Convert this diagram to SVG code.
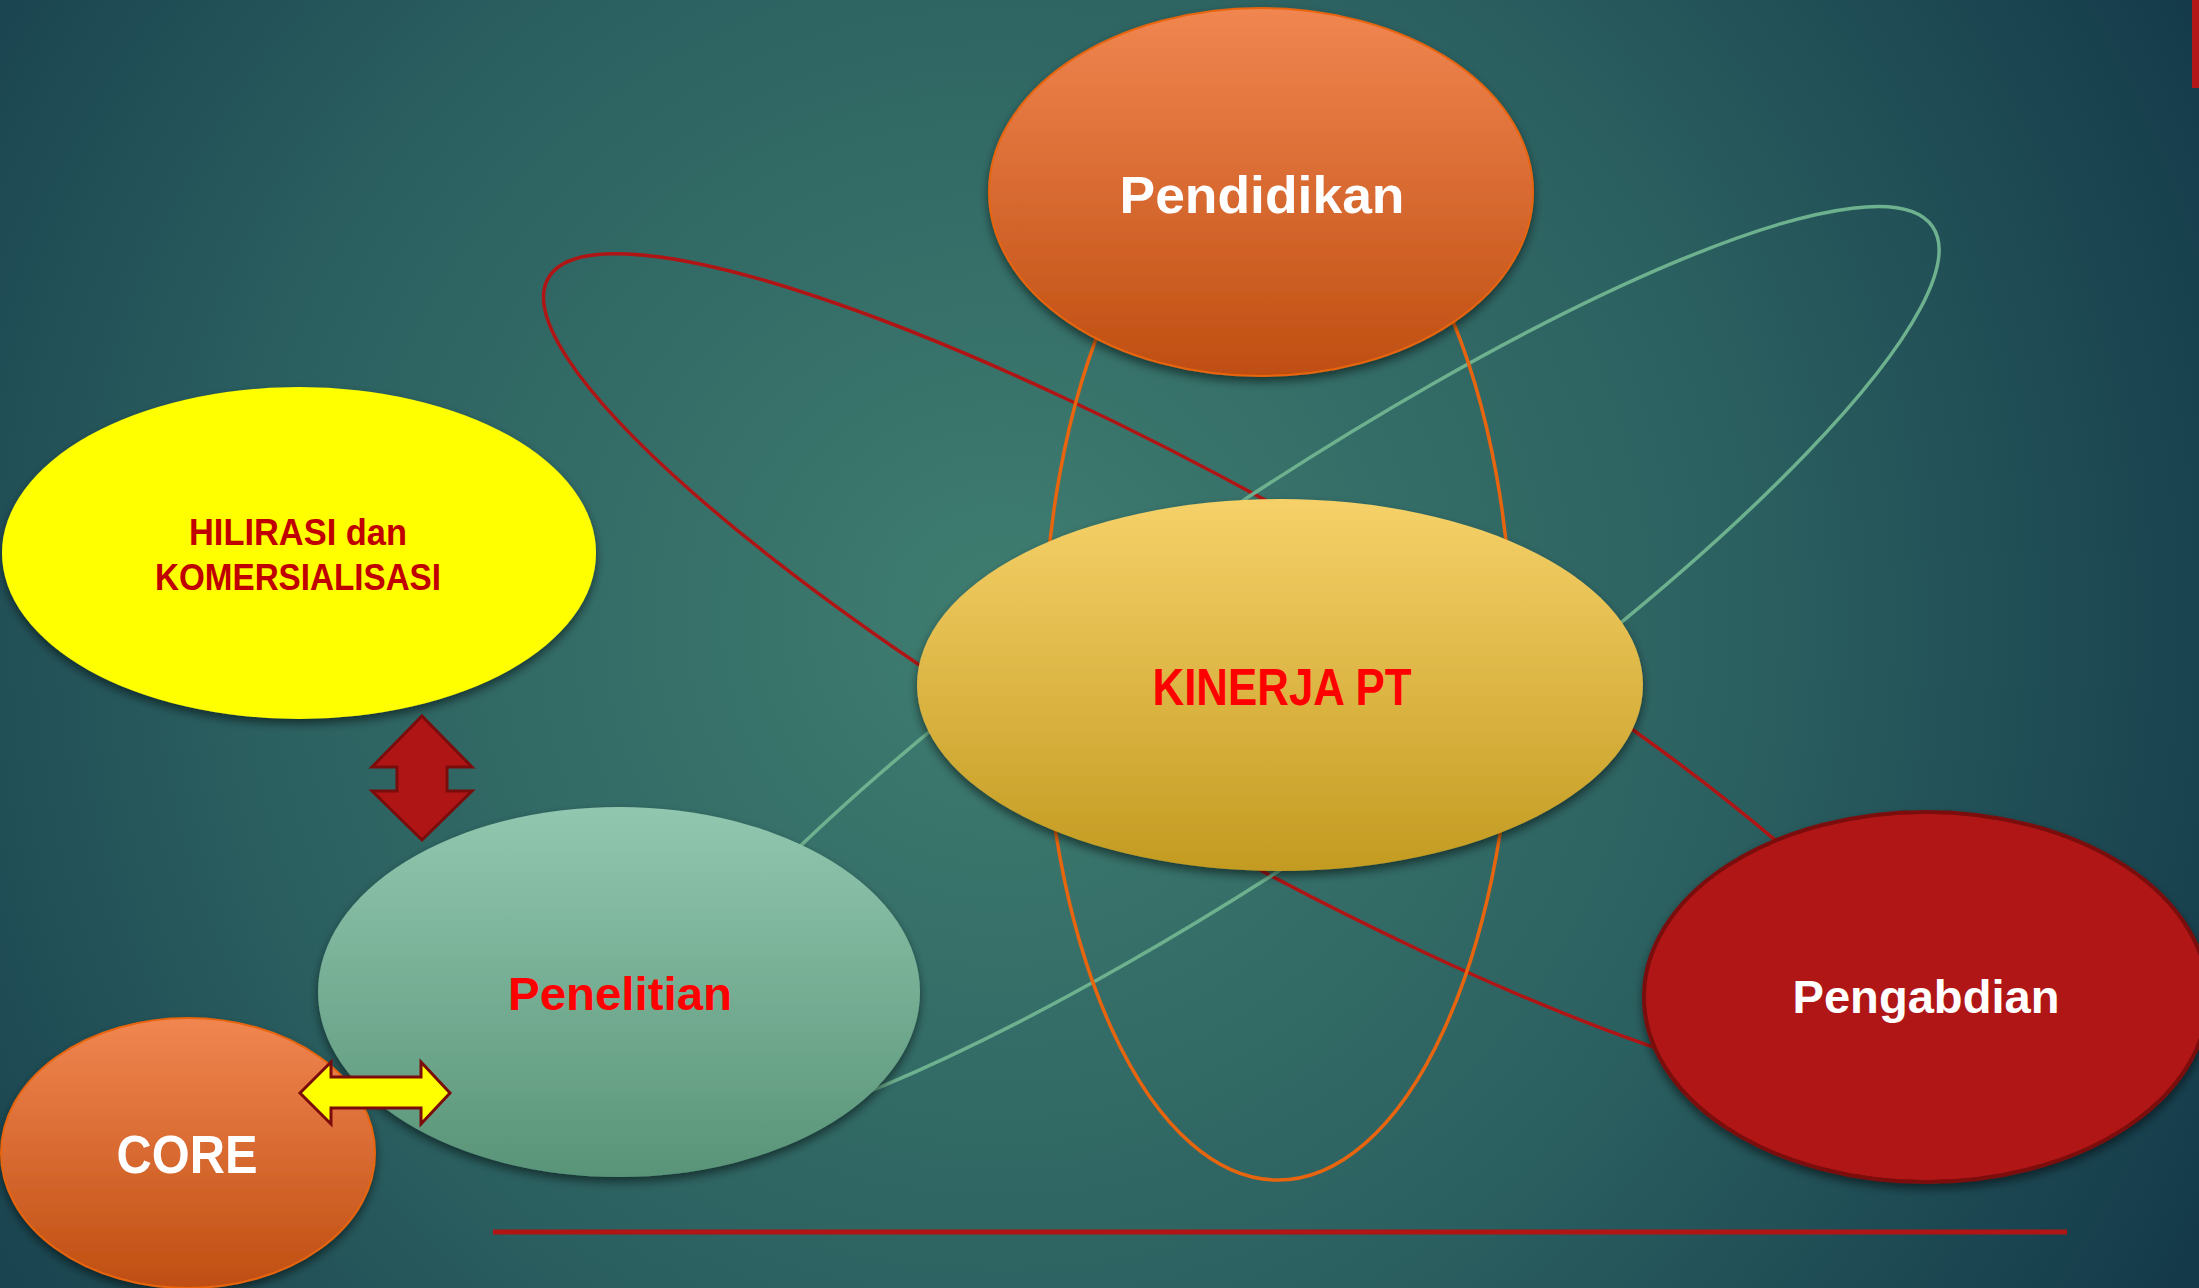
<svg xmlns="http://www.w3.org/2000/svg" width="2199" height="1288" viewBox="0 0 2199 1288">
  <defs>
    <radialGradient id="bg" cx="1000" cy="620" r="1350" gradientUnits="userSpaceOnUse">
      <stop offset="0" stop-color="#3F7D70"/>
      <stop offset="0.55" stop-color="#2B6060"/>
      <stop offset="1" stop-color="#143A4A"/>
    </radialGradient>
    <linearGradient id="gOrange" x1="0" y1="0" x2="0" y2="1">
      <stop offset="0" stop-color="#F18651"/>
      <stop offset="1" stop-color="#BF4E11"/>
    </linearGradient>
    <linearGradient id="gGold" x1="0" y1="0" x2="0" y2="1">
      <stop offset="0" stop-color="#F6D169"/>
      <stop offset="1" stop-color="#C39B21"/>
    </linearGradient>
    <linearGradient id="gGreen" x1="0" y1="0" x2="0" y2="1">
      <stop offset="0" stop-color="#91C7AF"/>
      <stop offset="1" stop-color="#599478"/>
    </linearGradient>
    <filter id="shadow" x="-10%" y="-10%" width="120%" height="125%">
      <feDropShadow dx="0" dy="5" stdDeviation="5" flood-color="#000" flood-opacity="0.5"/>
    </filter>
    <style>
      .orbit { fill: none; }
      .lbl { font-family: "Liberation Sans", Arial, sans-serif; font-weight: bold; text-anchor: middle; }
      .white { fill: #FFFFFF; }
      .red { fill: #FF0000; }
      .dred { fill: #C00000; }
      .arrow { stroke: #7B0C0C; stroke-width: 3; stroke-linejoin: miter; }
    </style>
  </defs>

  <rect x="0" y="0" width="2199" height="1288" fill="url(#bg)"/>
  <rect x="2192" y="0" width="7" height="88" fill="#B31717"/>

  <g id="orbits">
    <ellipse class="orbit" cx="0" cy="0" rx="801" ry="163" transform="translate(1244 675) rotate(29.7)" stroke="#B01515" stroke-width="3.5"/>
    <ellipse class="orbit" cx="0" cy="0" rx="792" ry="164" transform="translate(1279 674) rotate(-34.4)" stroke="#6DB18F" stroke-width="3.5"/>
    <ellipse class="orbit" cx="1278" cy="665" rx="235" ry="515" stroke="#E8650F" stroke-width="3.5"/>
  </g>

  <g id="node-pendidikan">
    <ellipse cx="1261" cy="192" rx="272" ry="184" fill="url(#gOrange)" stroke="#E8650F" stroke-width="2" filter="url(#shadow)"/>
    <text class="lbl white" x="1262" y="213" font-size="52" textLength="285" lengthAdjust="spacingAndGlyphs">Pendidikan</text>
  </g>

  <g id="node-kinerja">
    <ellipse cx="1280" cy="685" rx="363" ry="186" fill="url(#gGold)" filter="url(#shadow)"/>
    <text class="lbl red" x="1282" y="705" font-size="51" textLength="259" lengthAdjust="spacingAndGlyphs">KINERJA PT</text>
  </g>

  <g id="node-pengabdian">
    <ellipse cx="1926" cy="997" rx="282" ry="185" fill="#B01515" stroke="#7B0E0E" stroke-width="4" filter="url(#shadow)"/>
    <text class="lbl white" x="1926" y="1013" font-size="46" textLength="267" lengthAdjust="spacingAndGlyphs">Pengabdian</text>
  </g>

  <g id="node-hilirasi">
    <ellipse cx="299" cy="553" rx="297" ry="166" fill="#FFFF00" filter="url(#shadow)"/>
    <text class="lbl dred" x="298" y="545" font-size="36" textLength="218" lengthAdjust="spacingAndGlyphs">HILIRASI dan</text>
    <text class="lbl dred" x="298" y="590" font-size="36" textLength="286" lengthAdjust="spacingAndGlyphs">KOMERSIALISASI</text>
  </g>

  <g id="node-penelitian">
    <ellipse cx="619" cy="992" rx="301" ry="185" fill="url(#gGreen)" filter="url(#shadow)"/>
    <text class="lbl red" x="620" y="1010" font-size="46" textLength="224" lengthAdjust="spacingAndGlyphs">Penelitian</text>
  </g>

  <g id="node-core">
    <ellipse cx="188" cy="1153" rx="187" ry="135" fill="url(#gOrange)" stroke="#E8650F" stroke-width="2" filter="url(#shadow)"/>
    <text class="lbl white" x="187" y="1173" font-size="53" textLength="141" lengthAdjust="spacingAndGlyphs">CORE</text>
  </g>

  <g id="connectors">
    <polygon class="arrow" fill="#B01515" points="422,716 472,767 447,767 447,791 472,791 422,840 372,791 397,791 397,767 372,767"/>
    <polygon class="arrow" fill="#FFFF00" points="300,1093 331,1062 331,1077 421,1077 421,1062 450,1093 421,1124 421,1108 331,1108 331,1124"/>
  </g>

  <line x1="493" y1="1232" x2="2067" y2="1232" stroke="#B01515" stroke-width="5"/>
</svg>
